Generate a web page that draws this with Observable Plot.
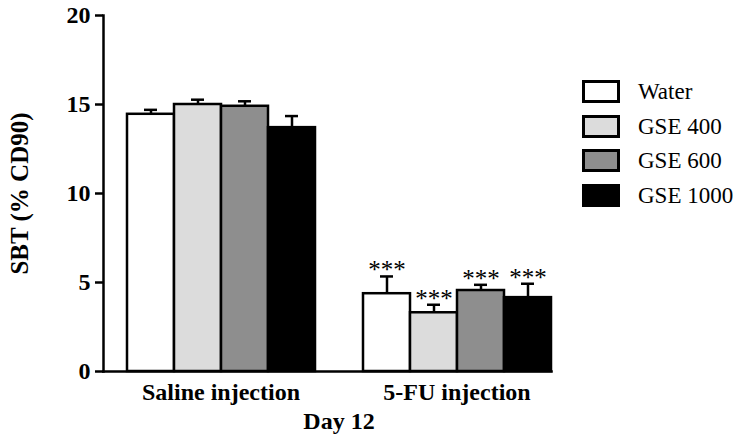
<!DOCTYPE html>
<html>
<head>
<meta charset="utf-8">
<script src="https://cdn.jsdelivr.net/npm/d3@7"></script>
<script src="https://cdn.jsdelivr.net/npm/@observablehq/plot@0.6"></script>
<style>
  html, body { margin: 0; padding: 0; background: #fff; }
  #wrap { position: relative; width: 741px; height: 448px; font-family: "Liberation Serif", "Times New Roman", serif; }
  #legend { position: absolute; left: 582px; top: 80px; }
  .row { display: flex; align-items: center; height: 23px; margin-bottom: 11.5px; }
  .sw { width: 38px; height: 23px; box-sizing: border-box; border: 3px solid #000; }
  .lab { margin-left: 18px; font-size: 23px; color: #000; line-height: 23px; }
</style>
</head>
<body>
<div id="wrap"><div id="legend"></div></div>
<script>
const groups = ["Saline injection", "5-FU injection"];
const treatments = ["Water", "GSE 400", "GSE 600", "GSE 1000"];
const colors = ["#ffffff", "#dcdcdc", "#8e8e8e", "#000000"];
const salineMeans = [14.45, 15.0, 14.9, 13.7];
const salineErr = [0.25, 0.27, 0.28, 0.65];
const fuMeans = [4.37, 3.3, 4.55, 4.15];
const fuErr = [0.97, 0.45, 0.32, 0.78];
const salineSig = ["", "", "", ""];
const fuSig = ["***", "***", "***", "***"];
const yTicks = [0, 5, 10, 15, 20];
const yLabel = "SBT (% CD90)";
const xLabel = "Day 12";

const data = [];
treatments.forEach((t, i) => data.push({group: groups[0], treatment: t, mean: salineMeans[i], err: salineErr[i], sig: salineSig[i]}));
treatments.forEach((t, i) => data.push({group: groups[1], treatment: t, mean: fuMeans[i], err: fuErr[i], sig: fuSig[i]}));
const errTop = d => d.mean + d.err;

const plot = Plot.plot({
  width: 741,
  height: 448,
  marginLeft: 103,
  marginRight: 189,
  marginTop: 15,
  marginBottom: 77,
  style: {fontFamily: "Liberation Serif, Times New Roman, serif", fontSize: "24px", fontWeight: "bold", color: "#000", background: "#fff"},
  fx: {domain: groups, paddingInner: 0.101, paddingOuter: 0},
  x: {domain: treatments, paddingInner: 0, paddingOuter: 0.242, align: 1, axis: null},
  y: {domain: [0, 20]},
  color: {domain: treatments, range: colors},
  marks: [
    Plot.axisY({ticks: yTicks, tickSize: 8, tickPadding: 5, strokeWidth: 2.5, fontSize: 24, fontWeight: "bold", label: null}),
    Plot.axisY({ticks: [], tickSize: 0, fontSize: 25, fontWeight: "bold",
      label: yLabel, labelAnchor: "center", labelOffset: 93, labelArrow: "none"}),
    Plot.axisFx({anchor: "bottom", tickSize: 0, tickPadding: 11, fontSize: 24, fontWeight: "bold", dx: 11.5, label: null}),
    Plot.barY(data, {fx: "group", x: "treatment", y: "mean", fill: "treatment", stroke: "#000", strokeWidth: 2.5}),
    Plot.ruleX(data, {fx: "group", x: "treatment", y1: "mean", y2: errTop, stroke: "#000", strokeWidth: 2.5}),
    Plot.tickY(data, {fx: "group", x: "treatment", y: errTop, stroke: "#000", strokeWidth: 2.5, insetLeft: 17, insetRight: 17}),
    Plot.text(data.filter(d => d.sig), {fx: "group", x: "treatment", y: errTop, text: "sig", fontSize: 25, fontWeight: "normal", lineAnchor: "middle", dy: -6}),
    Plot.frame({anchor: "bottom", facet: "super", stroke: "#000", strokeWidth: 2.5}),
    Plot.frame({anchor: "left", facet: "super", stroke: "#000", strokeWidth: 2.5}),
    Plot.text([xLabel], {facet: "super", frameAnchor: "bottom", lineAnchor: "top", dy: 40, dx: 11.5, fontSize: 24, fontWeight: "bold"})
  ]
});
document.getElementById("wrap").prepend(plot);

const legend = document.getElementById("legend");
treatments.forEach((t, i) => {
  const row = document.createElement("div");
  row.className = "row";
  row.innerHTML = `<div class="sw" style="background:${colors[i]}"></div><div class="lab">${t}</div>`;
  legend.appendChild(row);
});
</script>
</body>
</html>
